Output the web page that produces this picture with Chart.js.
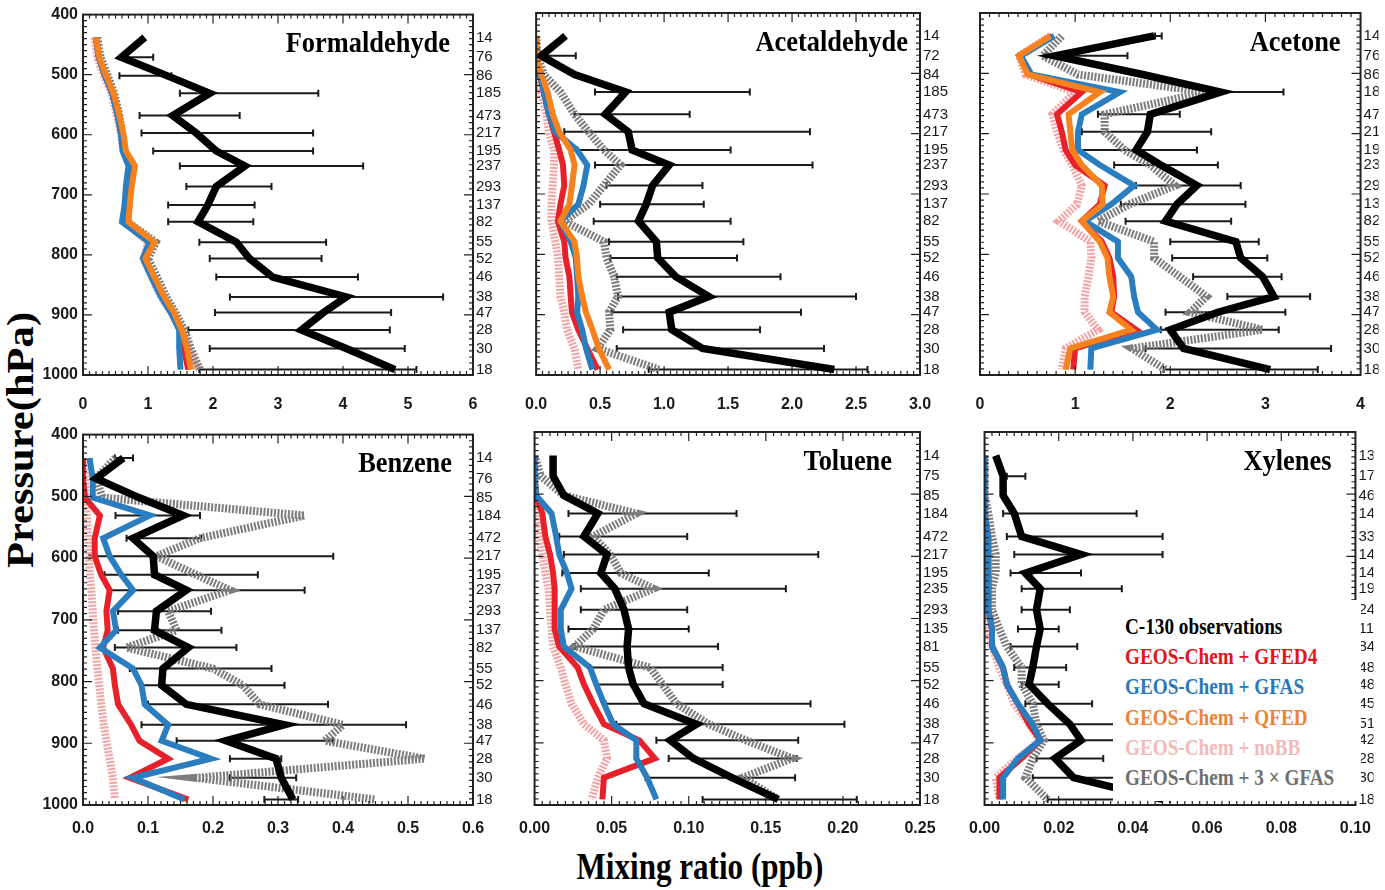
<!DOCTYPE html>
<html>
<head>
<meta charset="utf-8">
<script src="https://cdn.jsdelivr.net/npm/chart.js@4.4.0/dist/chart.umd.min.js"></script>
<style>
  body { margin: 0; background: #fff; }
  #wrap { position: relative; width: 1385px; height: 890px; overflow: hidden; background: #fff; }
  canvas { position: absolute; }
  .serif { position: absolute; font-family: "Liberation Serif", "DejaVu Serif", serif; font-weight: bold; white-space: nowrap; color: #000; }
  #ytitle { left: 20px; top: 440px; font-size: 38px; line-height: 38px; transform: translate(-50%, -50%) rotate(-90deg) scaleX(1.12); }
  #xtitle { left: 700px; top: 866px; font-size: 37px; line-height: 37px; transform: translate(-50%, -50%) scaleX(0.84); }
  #legend { position: absolute; left: 1113px; top: 600px; width: 248px; height: 201px; background: #fff; }
  #legend .serif { left: 12px; font-size: 24px; line-height: 24px; transform-origin: left center; transform: scaleX(0.8); }
</style>
</head>
<body>
<div id="wrap">
  <div id="ytitle" class="serif">Pressure(hPa)</div>
  <div id="xtitle" class="serif">Mixing ratio (ppb)</div>
</div>
<script>
// pressure levels (hPa), shared by every panel
const levels = [438, 471, 502, 531, 568, 597, 627, 652, 686, 717, 745, 779, 806, 837, 870, 896, 925, 956, 991];

// ---- Formaldehyde ----
const hchoN = [14, 76, 86, 185, 473, 217, 195, 237, 293, 137, 82, 55, 52, 46, 38, 47, 28, 30, 18];
const hchoObs = [0.95, 0.59, 1.30, 1.95, 1.38, 1.74, 2.05, 2.49, 2.05, 1.92, 1.77, 2.36, 2.56, 2.92, 4.05, 3.70, 3.36, 4.05, 4.80];
const hchoLo = [null, 0.69, 0.56, 1.49, 0.87, 0.90, 1.08, 1.49, 1.59, 1.31, 1.31, 1.79, 1.95, 2.05, 2.26, 2.03, 1.62, 1.95, 1.79];
const hchoHi = [null, 1.08, 1.36, 3.62, 2.41, 3.54, 3.54, 4.31, 2.90, 2.64, 2.62, 3.74, 3.67, 4.23, 5.54, 4.74, 4.72, 4.95, 5.13];
const hchoGfed = [0.20, 0.24, 0.34, 0.45, 0.54, 0.60, 0.63, 0.74, 0.70, 0.68, 0.66, 1.05, 0.94, 1.07, 1.22, 1.37, 1.50, 1.55, 1.62];
const hchoGfas = [0.20, 0.24, 0.34, 0.45, 0.53, 0.58, 0.61, 0.70, 0.66, 0.64, 0.60, 1.02, 0.92, 1.05, 1.20, 1.35, 1.48, 1.48, 1.50];
const hchoQfed = [0.20, 0.25, 0.36, 0.47, 0.56, 0.62, 0.66, 0.80, 0.75, 0.72, 0.70, 1.10, 0.96, 1.10, 1.25, 1.40, 1.52, 1.60, 1.66];
const hchoNobb = [0.18, 0.22, 0.32, 0.44, 0.52, 0.58, 0.62, 0.72, 0.70, 0.68, 0.66, 1.00, 0.94, 1.06, 1.20, 1.36, 1.52, 1.62, 1.76];
const hchoGfas3 = [0.22, 0.27, 0.38, 0.48, 0.56, 0.60, 0.64, 0.76, 0.72, 0.70, 0.68, 1.12, 1.00, 1.14, 1.28, 1.42, 1.56, 1.66, 1.80];

// ---- Acetaldehyde ----
const acN = [14, 72, 84, 185, 473, 217, 195, 237, 293, 137, 82, 55, 52, 46, 38, 47, 28, 30, 18];
const acObs = [0.23, 0.04, 0.30, 0.70, 0.54, 0.72, 0.75, 1.04, 0.91, 0.86, 0.80, 0.94, 0.95, 1.09, 1.35, 1.04, 1.06, 1.30, 2.33];
const acLo = [null, 0.04, null, 0.46, 0.30, 0.22, 0.32, 0.46, 0.55, 0.50, 0.45, 0.57, 0.58, 0.63, 0.64, 0.59, 0.68, 0.63, 0.88];
const acHi = [null, 0.31, null, 1.67, 1.20, 2.14, 1.52, 2.16, 1.30, 1.31, 1.52, 1.62, 1.57, 1.91, 2.50, 2.07, 1.75, 2.25, 2.59];
const acGfed = [0.00, 0.00, 0.03, 0.06, 0.10, 0.14, 0.18, 0.21, 0.22, 0.19, 0.17, 0.22, 0.23, 0.26, 0.27, 0.28, 0.33, 0.40, 0.48];
const acGfas = [0.00, 0.00, 0.03, 0.06, 0.10, 0.15, 0.32, 0.40, 0.37, 0.33, 0.19, 0.27, 0.31, 0.32, 0.33, 0.32, 0.36, 0.39, 0.44];
const acQfed = [0.00, 0.00, 0.04, 0.09, 0.13, 0.18, 0.27, 0.30, 0.28, 0.26, 0.19, 0.30, 0.32, 0.33, 0.36, 0.39, 0.44, 0.49, 0.57];
const acNobb = [0.00, 0.00, 0.01, 0.04, 0.08, 0.10, 0.14, 0.14, 0.13, 0.12, 0.12, 0.15, 0.17, 0.18, 0.19, 0.22, 0.24, 0.30, 0.33];
const acGfas3 = [0.00, 0.01, 0.06, 0.19, 0.30, 0.41, 0.53, 0.66, 0.53, 0.41, 0.22, 0.53, 0.55, 0.61, 0.64, 0.57, 0.58, 0.48, 0.96];

// ---- Acetone ----
const acetN = [14, 76, 86, 185, 473, 217, 195, 237, 293, 137, 82, 55, 52, 46, 38, 47, 28, 30, 18];
const acetObs = [1.83, 0.79, 1.71, 2.53, 1.79, 1.76, 1.64, 1.90, 2.28, 2.07, 1.95, 2.69, 2.74, 2.97, 3.09, 2.50, 2.00, 2.14, 3.05];
const acetLo = [1.84, 0.69, null, 2.48, 1.24, 1.07, 1.02, 1.41, 1.64, 1.48, 1.53, 2.00, 2.02, 2.24, 2.60, 1.95, 1.90, 1.74, 1.93];
const acetHi = [1.91, 1.55, null, 3.19, 2.10, 2.43, 2.28, 2.50, 2.74, 2.79, 2.64, 2.93, 3.02, 3.17, 3.47, 3.21, 3.14, 3.69, 3.55];
const acetGfed = [0.76, 0.41, 0.52, 1.07, 0.81, 0.86, 0.90, 1.00, 1.31, 1.26, 1.07, 1.28, 1.36, 1.40, 1.41, 1.38, 1.64, 1.00, 0.98];
const acetGfas = [0.78, 0.43, 0.54, 1.47, 1.07, 1.03, 1.03, 1.26, 1.62, 1.38, 1.10, 1.45, 1.45, 1.59, 1.62, 1.66, 1.86, 1.17, 1.16];
const acetQfed = [0.74, 0.41, 0.50, 1.26, 0.93, 0.95, 0.97, 1.07, 1.28, 1.29, 1.07, 1.26, 1.34, 1.36, 1.40, 1.36, 1.59, 0.95, 0.90];
const acetNobb = [0.74, 0.41, 0.48, 1.00, 0.76, 0.81, 0.88, 0.97, 1.07, 1.02, 0.83, 1.16, 1.17, 1.14, 1.10, 1.10, 1.24, 0.90, 0.86];
const acetGfas3 = [0.86, 0.66, 1.03, 2.38, 1.31, 1.31, 1.52, 1.79, 2.05, 1.57, 1.24, 1.83, 1.83, 2.10, 2.38, 2.21, 2.97, 1.60, 1.95];

// ---- Benzene ----
const bzN = [14, 76, 85, 184, 472, 217, 195, 237, 293, 137, 82, 55, 52, 46, 38, 47, 28, 30, 18];
const bzObs = [0.062, 0.020, 0.086, 0.154, 0.077, 0.108, 0.110, 0.159, 0.113, 0.110, 0.162, 0.123, 0.121, 0.159, 0.310, 0.220, 0.297, 0.305, 0.323];
const bzLo = [0.049, null, null, 0.050, 0.067, 0.010, 0.033, 0.041, 0.054, 0.054, 0.049, 0.072, 0.090, 0.100, 0.090, 0.144, 0.226, 0.226, 0.279];
const bzHi = [0.077, null, null, 0.180, 0.182, 0.385, 0.269, 0.341, 0.197, 0.213, 0.236, 0.290, 0.310, 0.377, 0.497, 0.385, 0.305, 0.328, 0.331];
const bzGfed = [0.000, 0.000, 0.003, 0.026, 0.018, 0.018, 0.028, 0.041, 0.036, 0.038, 0.031, 0.046, 0.049, 0.054, 0.074, 0.087, 0.131, 0.072, 0.162];
const bzGfas = [0.010, 0.015, 0.015, 0.103, 0.031, 0.041, 0.059, 0.077, 0.046, 0.051, 0.026, 0.077, 0.090, 0.095, 0.131, 0.121, 0.197, 0.077, 0.156];
const bzNobb = [0.003, 0.003, 0.004, 0.006, 0.008, 0.009, 0.011, 0.013, 0.015, 0.017, 0.019, 0.022, 0.025, 0.028, 0.032, 0.036, 0.041, 0.046, 0.049];
const bzGfas3 = [0.050, 0.020, 0.030, 0.341, 0.179, 0.113, 0.174, 0.226, 0.131, 0.144, 0.067, 0.200, 0.246, 0.272, 0.400, 0.372, 0.526, 0.174, 0.449];

// ---- Toluene ----
const tolN = [14, 75, 85, 184, 472, 217, 195, 235, 293, 135, 81, 55, 52, 46, 38, 47, 28, 30, 18];
const tolObs = [0.012, 0.012, 0.019, 0.041, 0.032, 0.047, 0.043, 0.052, 0.058, 0.061, 0.060, 0.061, 0.064, 0.071, 0.105, 0.088, 0.103, 0.128, 0.158];
const tolLo = [null, null, null, 0.022, 0.016, 0.019, 0.018, 0.030, 0.030, 0.022, 0.026, 0.036, 0.040, 0.046, 0.053, 0.079, 0.087, 0.072, 0.109];
const tolHi = [null, null, null, 0.131, 0.099, 0.184, 0.113, 0.163, 0.099, 0.100, 0.119, 0.122, 0.122, 0.179, 0.201, 0.171, 0.170, 0.169, 0.209];
const tolGfed = [0.000, 0.000, 0.001, 0.005, 0.007, 0.010, 0.012, 0.013, 0.013, 0.013, 0.016, 0.028, 0.032, 0.038, 0.045, 0.068, 0.078, 0.045, 0.044];
const tolGfas = [0.000, 0.000, 0.001, 0.011, 0.014, 0.016, 0.021, 0.024, 0.017, 0.017, 0.019, 0.036, 0.040, 0.045, 0.051, 0.066, 0.066, 0.073, 0.079];
const tolNobb = [0.000, 0.000, 0.000, 0.001, 0.003, 0.005, 0.007, 0.009, 0.010, 0.011, 0.012, 0.017, 0.020, 0.024, 0.032, 0.045, 0.047, 0.041, 0.037];
const tolGfas3 = [0.000, 0.004, 0.019, 0.066, 0.038, 0.049, 0.056, 0.077, 0.045, 0.038, 0.026, 0.075, 0.083, 0.092, 0.113, 0.137, 0.167, 0.135, 0.158];

// ---- Xylenes ----
const xyN = [13, 177, 46, 148, 332, 148, 142, 195, 241, 117, 84, 48, 48, 45, 51, 42, 28, 30, 18];
const xyObs = [0.003, 0.005, 0.005, 0.008, 0.010, 0.026, 0.011, 0.015, 0.014, 0.015, 0.014, 0.013, 0.012, 0.017, 0.023, 0.026, 0.019, 0.024, 0.048];
const xyLo = [null, 0.006, null, 0.005, 0.006, 0.008, 0.007, 0.010, 0.010, 0.009, 0.007, 0.008, 0.010, 0.011, 0.012, 0.014, 0.014, 0.013, 0.017];
const xyHi = [null, 0.011, null, 0.041, 0.048, 0.048, 0.026, 0.037, 0.023, 0.020, 0.025, 0.022, 0.020, 0.029, 0.037, 0.041, 0.032, 0.045, 0.050];
const xyGfed = [0.000, 0.000, 0.000, 0.000, 0.001, 0.001, 0.001, 0.001, 0.001, 0.002, 0.002, 0.005, 0.006, 0.009, 0.012, 0.015, 0.010, 0.004, 0.004];
const xyGfas = [0.000, 0.000, 0.000, 0.000, 0.001, 0.001, 0.001, 0.001, 0.001, 0.002, 0.002, 0.005, 0.006, 0.009, 0.013, 0.015, 0.009, 0.005, 0.005];
const xyNobb = [0.000, 0.000, 0.000, 0.000, 0.000, 0.001, 0.001, 0.001, 0.001, 0.001, 0.002, 0.004, 0.006, 0.008, 0.012, 0.015, 0.009, 0.003, 0.004];
const xyGfas3 = [0.000, 0.000, 0.000, 0.001, 0.002, 0.003, 0.003, 0.002, 0.002, 0.004, 0.006, 0.010, 0.010, 0.013, 0.014, 0.016, 0.013, 0.011, 0.017];

const legendLabels = ['C-130 observations', 'GEOS-Chem + GFED4', 'GEOS-Chem + GFAS', 'GEOS-Chem + QFED', 'GEOS-Chem + noBB', 'GEOS-Chem + 3 \u00d7 GFAS'];
const legendColors = ['#000000', '#e3141c', '#2a78b8', '#ec8436', '#f2b9b9', '#6f6f6f'];

const colors = { obs: '#000000', gfed: '#e8202a', gfas: '#2a7ec0', qfed: '#f5821f', nobb: '#f3a5a5', gfas3: '#7d7d7d' };

// box = canvas [left, top, width, height]; area = plot frame [left, top, right, bottom] in page px
const panels = [
  { title: 'Formaldehyde', inset: 23, box: [0, 0, 520, 425], area: [83, 13, 473, 375], xMax: 6, step: 1, dec: 0, yLabels: true, pad: 20,
    counts: hchoN, obs: hchoObs, lo: hchoLo, hi: hchoHi, gfed: hchoGfed, gfas: hchoGfas, qfed: hchoQfed, nobb: hchoNobb, gfas3: hchoGfas3 },
  { title: 'Acetaldehyde', inset: 12, box: [505, 0, 465, 425], area: [532, 13, 920, 375], xMax: 3, step: 0.5, dec: 1, yLabels: false, pad: 20,
    counts: acN, obs: acObs, lo: acLo, hi: acHi, gfed: acGfed, gfas: acGfas, qfed: acQfed, nobb: acNobb, gfas3: acGfas3 },
  { title: 'Acetone', inset: 20, box: [955, 0, 430, 425], area: [980, 13, 1367, 375], xMax: 4, step: 1, dec: 0, yLabels: false, pad: 20,
    counts: acetN, obs: acetObs, lo: acetLo, hi: acetHi, gfed: acetGfed, gfas: acetGfas, qfed: acetQfed, nobb: acetNobb, gfas3: acetGfas3 },
  { title: 'Benzene', inset: 21, box: [0, 420, 520, 425], area: [83, 432, 473, 805], xMax: 0.6, step: 0.1, dec: 1, yLabels: true, pad: 14,
    counts: bzN, obs: bzObs, lo: bzLo, hi: bzHi, gfed: bzGfed, gfas: bzGfas, qfed: null, nobb: bzNobb, gfas3: bzGfas3 },
  { title: 'Toluene', inset: 28, box: [505, 420, 465, 425], area: [530, 432, 920, 805], xMax: 0.25, step: 0.05, dec: 2, yLabels: false, pad: 14,
    counts: tolN, obs: tolObs, lo: tolLo, hi: tolHi, gfed: tolGfed, gfas: tolGfas, qfed: null, nobb: tolNobb, gfas3: tolGfas3 },
  { title: 'Xylenes', inset: 24, box: [955, 420, 430, 425], area: [977, 432, 1367, 805], xMax: 0.1, step: 0.02, dec: 2, yLabels: false, pad: 14,
    counts: xyN, obs: xyObs, lo: xyLo, hi: xyHi, gfed: xyGfed, gfas: xyGfas, qfed: null, nobb: xyNobb, gfas3: xyGfas3 }
];

const tickFont = { family: '"Liberation Sans", Arial, sans-serif', size: 16, weight: 'bold' };
const countFont = { family: '"Liberation Sans", Arial, sans-serif', size: 15 };

function pts(arr) {
  return arr.map((v, i) => ({ x: v, y: levels[i] }));
}

function series(label, arr, color, width, dashed) {
  return {
    label, data: pts(arr), showLine: true, borderColor: color, backgroundColor: color,
    borderWidth: width, borderDash: dashed ? [2, 1.5] : [], pointRadius: 0, tension: 0
  };
}

function makePanel(cfg) {
  const wrap = document.getElementById('wrap');
  const canvas = document.createElement('canvas');
  const [bl, bt, bw, bh] = cfg.box;
  const [al, at, ar, ab] = cfg.area;
  canvas.width = bw; canvas.height = bh;
  canvas.style.left = bl + 'px'; canvas.style.top = bt + 'px';
  wrap.appendChild(canvas);

  // first dataset is drawn last (on top)
  const datasets = [series('C-130 observations', cfg.obs, colors.obs, 7.5, false)];
  if (cfg.qfed) datasets.push(series('GEOS-Chem + QFED', cfg.qfed, colors.qfed, 6, false));
  datasets.push(series('GEOS-Chem + GFAS', cfg.gfas, colors.gfas, 6, false));
  datasets.push(series('GEOS-Chem + GFED4', cfg.gfed, colors.gfed, 6, false));
  datasets.push(series('GEOS-Chem + 3 x GFAS', cfg.gfas3, colors.gfas3, 8, true));
  datasets.push(series('GEOS-Chem + noBB', cfg.nobb, colors.nobb, 8, true));

  const errBars = {
    id: 'errBars',
    beforeDatasetsDraw(chart) {
      const { ctx, scales: { x, y } } = chart;
      ctx.save();
      ctx.strokeStyle = '#1a1a1a';
      ctx.lineWidth = 2;
      levels.forEach((p, i) => {
        if (cfg.lo[i] == null) return;
        const py = y.getPixelForValue(p);
        const x0 = x.getPixelForValue(cfg.lo[i]);
        const x1 = x.getPixelForValue(cfg.hi[i]);
        ctx.beginPath();
        ctx.moveTo(x0, py); ctx.lineTo(x1, py);
        ctx.moveTo(x0, py - 3.5); ctx.lineTo(x0, py + 3.5);
        ctx.moveTo(x1, py - 3.5); ctx.lineTo(x1, py + 3.5);
        ctx.stroke();
      });
      ctx.restore();
    }
  };

  const frame = {
    id: 'frame',
    afterDatasetsDraw(chart) {
      const { ctx, chartArea: a, scales: { x, y } } = chart;
      ctx.save();
      ctx.strokeStyle = '#222';
      ctx.lineWidth = 2;
      ctx.strokeRect(a.left, a.top, a.right - a.left, a.bottom - a.top);
      ctx.lineWidth = 1.2;
      ctx.beginPath();
      const n = Math.round(cfg.xMax / cfg.step) * 10;
      for (let k = 1; k < n; k++) {
        const px = x.getPixelForValue(k * cfg.step / 10);
        const len = k % 10 === 0 ? 9 : 4;
        ctx.moveTo(px, a.bottom); ctx.lineTo(px, a.bottom - len);
        ctx.moveTo(px, a.top); ctx.lineTo(px, a.top + len);
      }
      for (let p = 410; p < 1000; p += 10) {
        const py = y.getPixelForValue(p);
        const len = p % 100 === 0 ? 9 : 4;
        ctx.moveTo(a.left, py); ctx.lineTo(a.left + len, py);
        ctx.moveTo(a.right, py); ctx.lineTo(a.right - len, py);
      }
      ctx.stroke();

      // panel title
      ctx.translate(a.right - cfg.inset, a.top + 30);
      ctx.scale(0.88, 1);
      ctx.fillStyle = '#000';
      ctx.font = 'bold 30px "Liberation Serif", "DejaVu Serif", serif';
      ctx.textAlign = 'right';
      ctx.textBaseline = 'middle';
      ctx.fillText(cfg.title, 0, 0);
      ctx.restore();
    }
  };

  new Chart(canvas, {
    type: 'scatter',
    data: { datasets },
    plugins: [errBars, frame],
    options: {
      responsive: false,
      animation: false,
      devicePixelRatio: 1,
      layout: { padding: { top: at - bt, left: 0, right: 0, bottom: 0 } },
      plugins: { legend: { display: false }, tooltip: { enabled: false } },
      elements: { line: { borderJoinStyle: 'miter' } },
      scales: {
        x: {
          type: 'linear', position: 'bottom', min: 0, max: cfg.xMax,
          grid: { display: false, drawTicks: false }, border: { display: false },
          ticks: { stepSize: cfg.step, autoSkip: false, maxRotation: 0, font: tickFont, color: '#1a1a1a',
                   padding: cfg.pad, callback: v => v.toFixed(cfg.dec) },
          afterFit: s => { s.height = bt + bh - ab; }
        },
        y: {
          type: 'linear', position: 'left', min: 400, max: 1000, reverse: true,
          grid: { display: false, drawTicks: false }, border: { display: false },
          ticks: { display: cfg.yLabels, stepSize: 100, autoSkip: false, font: tickFont, color: '#1a1a1a', padding: 5,
                   callback: v => String(v) },
          afterFit: s => { s.width = al - bl; }
        },
        yN: {
          type: 'linear', position: 'right', min: 400, max: 1000, reverse: true,
          grid: { display: false, drawTicks: false }, border: { display: false },
          afterBuildTicks: ax => { ax.ticks = levels.map(v => ({ value: v })); },
          ticks: { autoSkip: false, font: countFont, color: '#1a1a1a', padding: 3,
                   callback: (v, i) => cfg.counts[i] },
          afterFit: s => { s.width = bl + bw - ar; }
        }
      }
    }
  });
}

panels.forEach(makePanel);

// legend box over the Xylenes panel
const legend = document.createElement('div');
legend.id = 'legend';
legendLabels.forEach((t, i) => {
  const d = document.createElement('div');
  d.className = 'serif';
  d.textContent = t;
  d.style.color = legendColors[i];
  d.style.top = (14 + i * 30.2) + 'px';
  legend.appendChild(d);
});
document.getElementById('wrap').appendChild(legend);
</script>
</body>
</html>
